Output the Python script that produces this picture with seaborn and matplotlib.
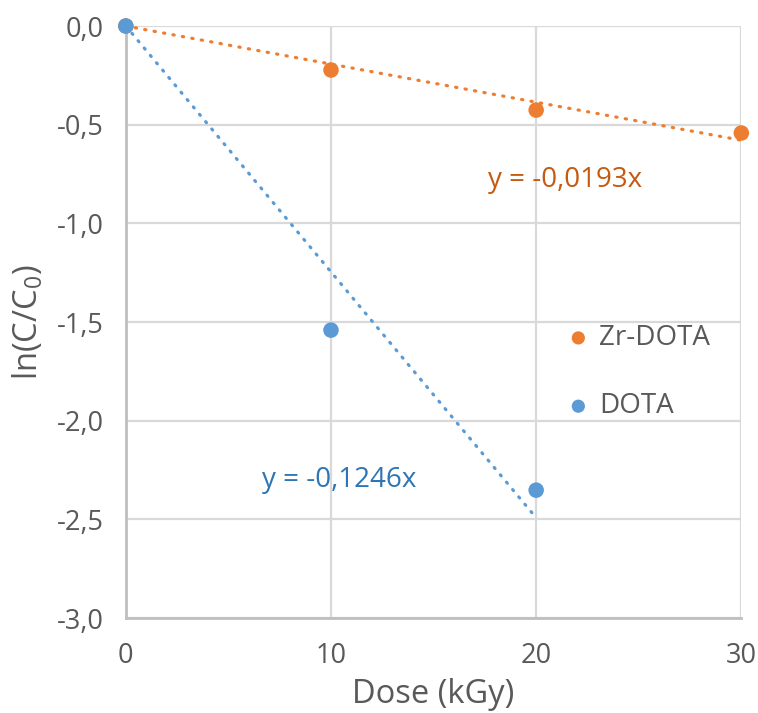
import numpy as np
import pandas as pd
import matplotlib
matplotlib.use('Agg')
import matplotlib.pyplot as plt
import seaborn as sns

# values
dose_zr = [0, 10, 20, 30]
ln_zr = [0.0, -0.223, -0.426, -0.542]
dose_dota = [0, 10, 20]
ln_dota = [0.0, -1.541, -2.352]

# linear trendlines through origin
slope_zr = -0.0193
slope_dota = -0.1246
trend_x_zr = [0, 30]
trend_x_dota = [0, 20]

x_ticks = [0, 10, 20, 30]
y_ticks = [0.0, -0.5, -1.0, -1.5, -2.0, -2.5, -3.0]

orange = '#ED7D31'
blue = '#5B9BD5'
orange_txt = '#C55A11'
blue_txt = '#2E75B6'
grid_c = '#D9D9D9'
spine_c = '#BFBFBF'
text_c = '#595959'

sns.set_style('white')
plt.rcParams['font.family'] = ['Open Sans', 'DejaVu Sans']
plt.rcParams['mathtext.default'] = 'regular'

fig = plt.figure(figsize=(7.58, 7.13), dpi=100)
ax = fig.add_axes([0.166, 0.1332, 0.812, 0.8303])

# trendlines
tz = pd.DataFrame({'x': trend_x_zr, 'y': [slope_zr * v for v in trend_x_zr]})
td = pd.DataFrame({'x': trend_x_dota, 'y': [slope_dota * v for v in trend_x_dota]})
sns.lineplot(data=tz, x='x', y='y', ax=ax, color=orange, lw=2.3,
             linestyle=(0, (0.4, 2.6)), dash_capstyle='round', zorder=2)
sns.lineplot(data=td, x='x', y='y', ax=ax, color=blue, lw=2.3,
             linestyle=(0, (0.4, 2.6)), dash_capstyle='round', zorder=2)

# points
zr = pd.DataFrame({'x': dose_zr, 'y': ln_zr})
dota = pd.DataFrame({'x': dose_dota, 'y': ln_dota})
sns.scatterplot(data=zr, x='x', y='y', ax=ax, color=orange, s=125,
                edgecolor='none', label='Zr-DOTA', zorder=4, clip_on=False)
sns.scatterplot(data=dota, x='x', y='y', ax=ax, color=blue, s=125,
                edgecolor='none', label='DOTA', zorder=5, clip_on=False)

ax.set_xlim(0, 30)
ax.set_ylim(-3.0, 0.0)
ax.set_xticks(x_ticks)
ax.set_yticks(y_ticks)
ax.set_xticklabels([str(v) for v in x_ticks])
ax.set_yticklabels([f'{v:.1f}'.replace('.', ',') for v in y_ticks])
ax.tick_params(axis='both', length=0, labelsize=19.5, colors=text_c)
ax.tick_params(axis='x', pad=17)
ax.tick_params(axis='y', pad=16)

ax.grid(True, color=grid_c, lw=1.6)
ax.set_axisbelow(True)
for side in ['top', 'right']:
    ax.spines[side].set_visible(False)
for side in ['left', 'bottom']:
    ax.spines[side].set_color(spine_c)
    ax.spines[side].set_linewidth(2)

ax.set_xlabel('Dose (kGy)', fontsize=23.5, color=text_c, labelpad=6)
ax.set_ylabel('ln(C/C$_0$)', fontsize=23.5, color=text_c, labelpad=8)

ax.text(17.66, -0.78, 'y = -0,0193x', fontsize=20, color=orange_txt, va='center')
ax.text(6.63, -2.30, 'y = -0,1246x', fontsize=20, color=blue_txt, va='center')

leg = ax.legend(loc='center left', bbox_to_anchor=(0.672, 0.415), frameon=False,
                fontsize=20, labelspacing=1.45, handlelength=1.0,
                handletextpad=0.25, markerscale=0.85)
for t in leg.get_texts():
    t.set_color(text_c)

fig.savefig('out.png', dpi=100)
